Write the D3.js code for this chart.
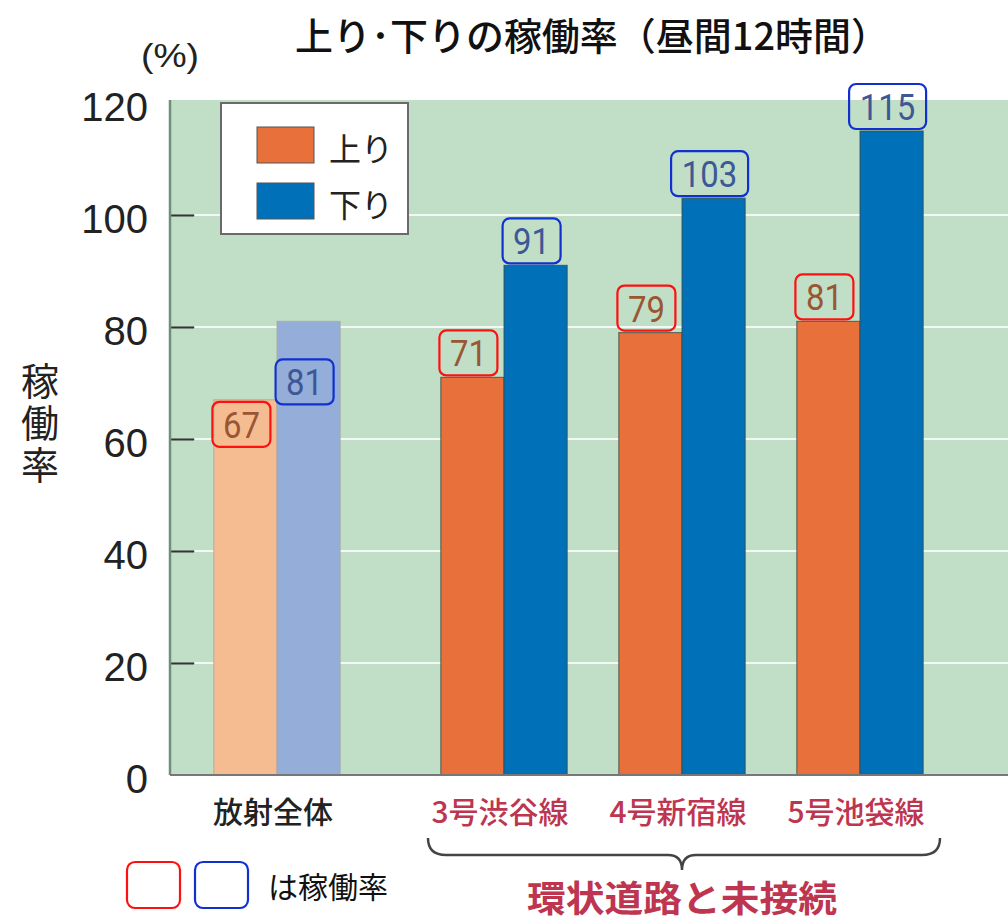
<!DOCTYPE html>
<html>
<head>
<meta charset="utf-8">
<script src="https://cdn.jsdelivr.net/npm/d3@7"></script>
<style>
  body { margin: 0; background: #fff; }
  svg { display: block; }
  .jp { font-family: 'Noto Sans CJK JP', sans-serif; }
</style>
</head>
<body>
<svg id="chart" width="1008" height="921"></svg>
<script>
// data
const categories = ['放射全体', '3号渋谷線', '4号新宿線', '5号池袋線']
const directions = ['上り', '下り']
const upValues = [67, 71, 79, 81]
const downValues = [81, 91, 103, 115]
const yTicks = [0, 20, 40, 60, 80, 100, 120]

const colors = {
  up: '#E8703A', down: '#0070B8',
  upPale: '#F5BC91', downPale: '#94AED9',
  upText: '#9A5633', downText: '#3D5797',
  upBox: '#FF1010', downBox: '#1030D0',
  route: '#BE3550', bg: '#C1DFC6'
}

const svg = d3.select('#chart')
const plot = { left: 170, right: 1008, top: 100, bottom: 775 }

const y = d3.scaleLinear().domain([0, 120]).range([775, 103])

// 放射全体 and the three routes sit in two separate sections
const xTotal = d3.scaleBand().domain(categories.slice(0, 1))
  .range([188, 366]).paddingInner(0.29).paddingOuter(0.145)
const xRoutes = d3.scaleBand().domain(categories.slice(1))
  .range([415, 949]).paddingInner(0.29).paddingOuter(0.145)
const xGroup = (c) => c === categories[0] ? xTotal(c) : xRoutes(c)
const xSub = d3.scaleBand().domain(directions).range([0, xRoutes.bandwidth()])

const rows = []
categories.forEach((c, i) => {
  rows.push({ cat: c, dir: directions[0], value: upValues[i], i })
  rows.push({ cat: c, dir: directions[1], value: downValues[i], i })
})

// plot background
svg.append('rect')
  .attr('x', plot.left).attr('y', plot.top)
  .attr('width', plot.right - plot.left).attr('height', plot.bottom - plot.top)
  .attr('fill', colors.bg)

// grid lines
svg.append('g')
  .selectAll('line')
  .data(yTicks.filter(t => t > 0 && t < 120))
  .join('line')
  .attr('x1', plot.left + 25).attr('x2', plot.right)
  .attr('y1', d => y(d)).attr('y2', d => y(d))
  .attr('stroke', '#f4f8f4').attr('stroke-width', 2)

// y axis: ticks point into the plot
const yAxisG = svg.append('g')
  .attr('transform', `translate(${plot.left},0)`)
  .call(d3.axisRight(y).tickValues(yTicks).tickSize(24).tickFormat(''))
yAxisG.select('.domain').remove()
yAxisG.selectAll('.tick line').attr('stroke', '#333').attr('stroke-width', 2)
  .filter(d => d === 0 || d === 120).remove()

svg.append('line')
  .attr('x1', plot.left).attr('x2', plot.left)
  .attr('y1', plot.top).attr('y2', plot.bottom)
  .attr('stroke', '#6f8f78').attr('stroke-width', 2.5)

svg.append('g')
  .selectAll('text')
  .data(yTicks)
  .join('text')
  .attr('x', 148).attr('y', d => y(d) + 4)
  .attr('text-anchor', 'end').attr('dominant-baseline', 'central')
  .attr('font-family', "'Liberation Sans', Arial, sans-serif")
  .attr('font-size', 40).attr('fill', '#222')
  .text(d => d)

svg.append('text')
  .attr('x', 170).attr('y', 55)
  .attr('text-anchor', 'middle').attr('dominant-baseline', 'central')
  .attr('font-family', "'Liberation Sans', Arial, sans-serif")
  .attr('font-size', 33).attr('fill', '#222')
  .attr('textLength', 58).attr('lengthAdjust', 'spacingAndGlyphs')
  .text('(%)')

// y label, written vertically
svg.append('text')
  .attr('class', 'jp')
  .attr('x', 40).attr('y', 362)
  .attr('font-size', 38).attr('fill', '#222')
  .style('writing-mode', 'vertical-rl')
  .style('letter-spacing', '4px')
  .text('稼働率')

// bars
const barFill = (d) => {
  const pale = d.i === 0
  if (d.dir === directions[0]) return pale ? colors.upPale : colors.up
  return pale ? colors.downPale : colors.down
}

svg.append('g')
  .selectAll('rect')
  .data(rows)
  .join('rect')
  .attr('x', d => xGroup(d.cat) + xSub(d.dir))
  .attr('y', d => y(d.value))
  .attr('width', xSub.bandwidth())
  .attr('height', d => y(0) - y(d.value))
  .attr('fill', barFill)
  .attr('stroke', d => d.i === 0 ? '#a8a8a0' : '#3b4a45')
  .attr('stroke-width', 1.2)
  .attr('stroke-opacity', 0.7)

// bottom line
svg.append('line')
  .attr('x1', plot.left).attr('x2', plot.right)
  .attr('y1', plot.bottom).attr('y2', plot.bottom)
  .attr('stroke', '#777').attr('stroke-width', 2)

// value labels in rounded boxes
const labelG = svg.append('g')
  .selectAll('g')
  .data(rows)
  .join('g')
  .attr('transform', d => {
    const cx = xGroup(d.cat) + xSub(d.dir) + xSub.bandwidth() / 2 - 4
    let top
    if (d.i === 0) {
      // overall section: boxes sit inside the pale bars
      top = y(d.value) + (d.dir === directions[0] ? 2 : 38)
    } else {
      top = y(d.value) - 2 - 45
    }
    return `translate(${cx},${top})`
  })

labelG.append('rect')
  .attr('x', d => -(String(d.value).length * 19 + 20) / 2)
  .attr('y', 0)
  .attr('width', d => String(d.value).length * 19 + 20)
  .attr('height', 45)
  .attr('rx', 7)
  .attr('fill', 'none')
  .attr('stroke', d => d.dir === directions[0] ? colors.upBox : colors.downBox)
  .attr('stroke-width', 2.2)

labelG.append('text')
  .attr('x', 0).attr('y', 24)
  .attr('text-anchor', 'middle').attr('dominant-baseline', 'central')
  .attr('font-family', 'Roboto, sans-serif')
  .attr('font-size', 36)
  .attr('textLength', d => String(d.value).length * 18.5)
  .attr('lengthAdjust', 'spacingAndGlyphs')
  .attr('fill', d => d.dir === directions[0] ? colors.upText : colors.downText)
  .text(d => d.value)

// category labels
svg.append('g')
  .selectAll('text')
  .data(categories)
  .join('text')
  .attr('class', 'jp')
  .attr('x', d => xGroup(d) + xRoutes.bandwidth() / 2 - 4)
  .attr('y', 810)
  .attr('text-anchor', 'middle').attr('dominant-baseline', 'central')
  .attr('font-size', 30)
  .attr('font-weight', 500)
  .attr('fill', (d, i) => i === 0 ? '#222' : colors.route)
  .text(d => d)

// brace under the three routes
const bL = xRoutes.range()[0] + 13
const bR = xRoutes.range()[1] - 9
const bM = (xRoutes(categories[1]) + xRoutes(categories[3]) + xRoutes.bandwidth()) / 2
const bTop = 838, bMid = 855, bTip = 870
svg.append('path')
  .attr('d', `M${bL},${bTop} Q${bL},${bMid} ${bL + 18},${bMid} L${bM - 14},${bMid} Q${bM},${bMid} ${bM},${bTip}` +
    ` Q${bM},${bMid} ${bM + 14},${bMid} L${bR - 18},${bMid} Q${bR},${bMid} ${bR},${bTop}`)
  .attr('fill', 'none').attr('stroke', '#444').attr('stroke-width', 2.5)

svg.append('text')
  .attr('class', 'jp')
  .attr('x', bM).attr('y', 896)
  .attr('text-anchor', 'middle').attr('dominant-baseline', 'central')
  .attr('font-size', 36).attr('font-weight', 'bold')
  .attr('textLength', 310).attr('lengthAdjust', 'spacingAndGlyphs')
  .attr('fill', colors.route)
  .text('環状道路と未接続')

// legend
const legend = svg.append('g').attr('transform', 'translate(221,103)')
legend.append('rect')
  .attr('width', 187).attr('height', 131)
  .attr('fill', '#fff').attr('stroke', '#6a6a6a').attr('stroke-width', 2)
const legItem = legend.selectAll('g.item')
  .data(directions)
  .join('g')
  .attr('class', 'item')
  .attr('transform', (d, i) => `translate(36,${24 + i * 56})`)
legItem.append('rect')
  .attr('width', 57).attr('height', 36)
  .attr('fill', (d, i) => i === 0 ? colors.up : colors.down)
  .attr('stroke', '#555').attr('stroke-width', 1)
legItem.append('text')
  .attr('class', 'jp')
  .attr('x', 72).attr('y', 20)
  .attr('dominant-baseline', 'central')
  .attr('font-size', 32).attr('fill', '#222')
  .text(d => d)

// title
svg.append('text')
  .attr('class', 'jp')
  .attr('x', 592).attr('y', 33)
  .attr('text-anchor', 'middle').attr('dominant-baseline', 'central')
  .attr('font-size', 38).attr('font-weight', 500)
  .attr('textLength', 594).attr('lengthAdjust', 'spacingAndGlyphs')
  .attr('fill', '#111')
  .text('上り･下りの稼働率（昼間12時間）')

// box key at bottom left
const key = svg.append('g').attr('transform', 'translate(127,862)')
key.selectAll('rect')
  .data([colors.upBox, colors.downBox])
  .join('rect')
  .attr('x', (d, i) => i * 68).attr('y', 0)
  .attr('width', 53).attr('height', 46).attr('rx', 8)
  .attr('fill', 'none').attr('stroke', d => d).attr('stroke-width', 2.2)
key.append('text')
  .attr('class', 'jp')
  .attr('x', 141).attr('y', 23)
  .attr('dominant-baseline', 'central')
  .attr('font-size', 30).attr('fill', '#111')
  .text('は稼働率')
</script>
</body>
</html>
